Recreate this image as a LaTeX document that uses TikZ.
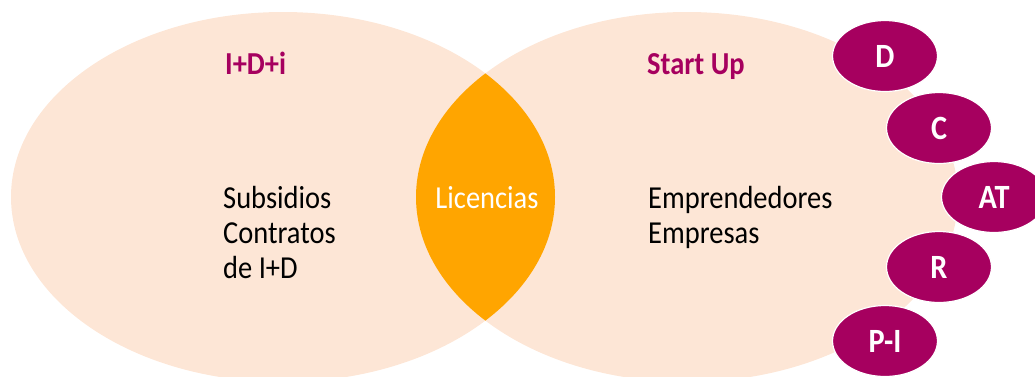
\documentclass[tikz,border=0pt]{standalone}
\usepackage{fontspec}
\setmainfont{Carlito}[FakeStretch=0.89]
\usetikzlibrary{shapes.geometric}
\definecolor{peach}{HTML}{FDE6D6}
\definecolor{lensorange}{HTML}{FFA500}
\definecolor{magentadark}{HTML}{A6005F}
\tikzset{
  txt/.style={inner sep=0pt, anchor=base west, font=\fontsize{32}{35}\selectfont},
  head/.style={txt, text=magentadark, font=\fontsize{32}{35}\selectfont\bfseries},
  bubble/.style={ellipse, fill=magentadark, draw=white, line width=1.2pt,
    minimum width=105pt, minimum height=71pt, inner sep=0pt, text=white,
    font=\fontsize{34}{36}\selectfont\bfseries},
}
\begin{document}
\begin{tikzpicture}[x=1pt,y=-1pt]
\useasboundingbox (0,0) rectangle (1035,376);
% big ellipses
\fill[peach] (283,197) ellipse [x radius=272, y radius=185];
\fill[peach] (687,197) ellipse [x radius=271, y radius=185];
\begin{scope}
  \clip (283,197) ellipse [x radius=272, y radius=185];
  \fill[lensorange] (687,197) ellipse [x radius=271, y radius=185];
\end{scope}
% left texts
\node[head] (idi) at (225,74) {I+D+i};
\node[txt] (l1) at (223,208) {Subsidios};
\node[txt] (l2) at (223,243) {Contratos};
\node[txt] (l3) at (223,278) {de I+D};
% lens
\node[txt, anchor=base, text=white] (lic) at (487,208) {Licencias};
% right texts
\node[head] (su) at (647,74) {Start Up};
\node[txt] (r1) at (648,208) {Emprendedores};
\node[txt] (r2) at (648,243) {Empresas};
% bubbles
\node[bubble] (bd) at (885,56) {D};
\node[bubble] (bc) at (939,128) {C};
\node[bubble] (bat) at (994,197) {AT};
\node[bubble] (br) at (939,267) {R};
\node[bubble] (bpi) at (885,341) {P-I};
\end{tikzpicture}
\end{document}
